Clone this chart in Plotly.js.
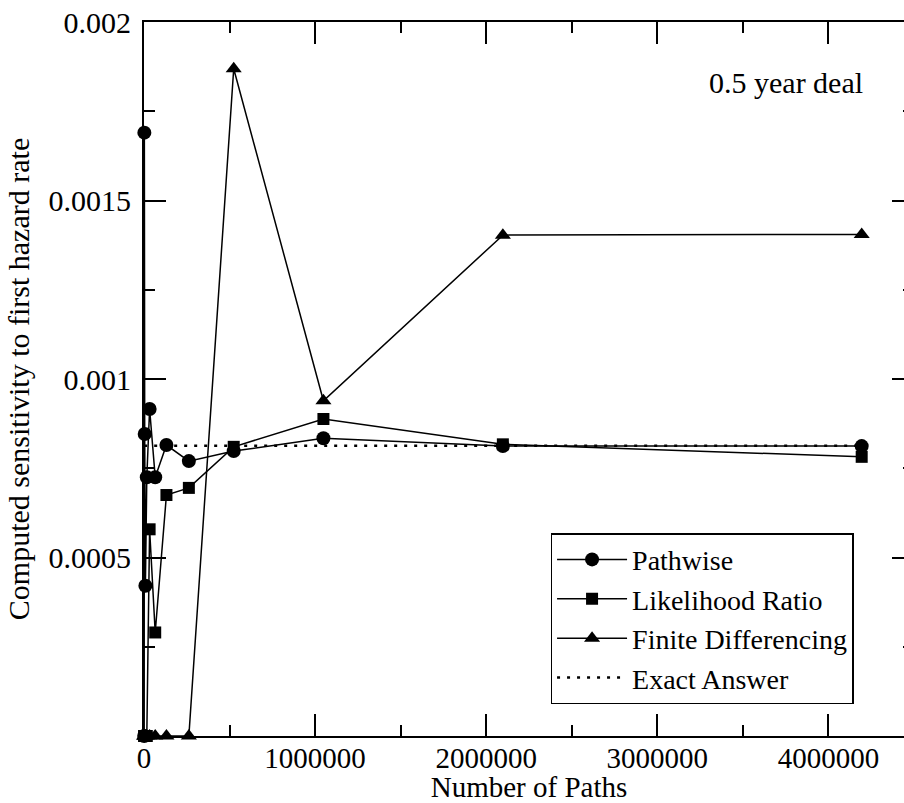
<!DOCTYPE html>
<html>
<head>
<meta charset="utf-8">
<script src="https://cdn.plot.ly/plotly-3.0.1.min.js"></script>
<style>
  html, body { margin: 0; padding: 0; overflow: hidden; background: #fff; }
  #chart { width: 920px; height: 803px; }
</style>
</head>
<body>
<div id="chart"></div>
<script>
// ---- data ----
const numPaths = [1024, 2048, 4096, 8192, 16384, 32768, 65536, 131072, 262144, 524288, 1048576, 2097152, 4194304];
const pathwise = [0, 0.00169, 0.000846, 0.000421, 0.000725, 0.000916, 0.000725, 0.000815, 0.000770, 0.000798, 0.000834, 0.000812, 0.000812];
const likelihoodRatio = [0, 0, 0, 0, 0, 0.000579, 0.000290, 0.000675, 0.000695, 0.000810, 0.000888, 0.000817, 0.000782];
const finiteDiff = [0, 0, 0, 0, 0, 0, 0, 0, 0, 0.001869, 0.000939, 0.001403, 0.001405];
const exactPaths = [1024, 4194304];
const exactAnswer = [0.000813, 0.000813];

const seriesNames = ["Pathwise", "Likelihood Ratio", "Finite Differencing", "Exact Answer"];
const xTickVals = [0, 1000000, 2000000, 3000000, 4000000];
const xTickText = ["0", "1000000", "2000000", "3000000", "4000000"];
const yTickVals = [0.0005, 0.001, 0.0015, 0.002];
const yTickText = ["0.0005", "0.001", "0.0015", "0.002"];

const FONT = "'Liberation Serif', 'DejaVu Serif', serif";
const lineStyle = { color: "#000", width: 1.5 };

const traces = [
  { x: numPaths, y: pathwise, name: seriesNames[0], mode: "lines+markers", cliponaxis: false,
    line: lineStyle, marker: { symbol: "circle", size: 14, color: "#000" } },
  { x: numPaths, y: likelihoodRatio, name: seriesNames[1], mode: "lines+markers", cliponaxis: false,
    line: lineStyle, marker: { symbol: "square", size: 12, color: "#000" } },
  { x: numPaths, y: finiteDiff, name: seriesNames[2], mode: "lines+markers", cliponaxis: false,
    line: lineStyle, marker: { symbol: "triangle-up", size: 14, color: "#000" } },
  { x: exactPaths, y: exactAnswer, name: seriesNames[3], mode: "lines", cliponaxis: false,
    line: { color: "#000", width: 2.5, dash: "3px,7px" } }
];

const axisCommon = {
  showline: true, linecolor: "#000", linewidth: 2,
  mirror: "allticks", ticks: "inside", ticklen: 22, tickwidth: 2, tickcolor: "#000",
  showgrid: false, zeroline: false,
  tickfont: { family: FONT, size: 30, color: "#000" },
  automargin: false
};

const layout = {
  width: 920, height: 803,
  margin: { l: 144, r: 6, t: 22, b: 67 },
  paper_bgcolor: "#fff", plot_bgcolor: "#fff",
  font: { family: FONT, size: 30, color: "#000" },
  showlegend: true,
  xaxis: Object.assign({}, axisCommon, {
    range: [0, 4500000],
    tickmode: "array", tickvals: xTickVals, ticktext: xTickText,
    tickfont: { family: FONT, size: 29, color: "#000" },
    ticklabelstandoff: -5,
    minor: { tickmode: "linear", tick0: 0, dtick: 500000, ticklen: 11, tickwidth: 2, tickcolor: "#000", ticks: "inside" },
    title: { text: "Number of Paths", font: { family: FONT, size: 29, color: "#000" } }
  }),
  yaxis: Object.assign({}, axisCommon, {
    range: [0, 0.002],
    tickmode: "array", tickvals: yTickVals, ticktext: yTickText,
    ticklabelstandoff: 5,
    minor: { tickmode: "linear", tick0: 0, dtick: 0.00025, ticklen: 11, tickwidth: 2, tickcolor: "#000", ticks: "inside" },
    title: { text: "Computed sensitivity to first hazard rate", font: { family: FONT, size: 30, color: "#000" }, standoff: 10 }
  }),
  legend: {
    x: 0.528, y: 0.284, xanchor: "left", yanchor: "top",
    bgcolor: "#fff", bordercolor: "#000", borderwidth: 1.5,
    font: { family: FONT, size: 28, color: "#000" },
    itemwidth: 70
  },
  annotations: [{
    text: "0.5 year deal", xref: "paper", yref: "paper", x: 0.937, y: 0.9146,
    xanchor: "right", yanchor: "middle", showarrow: false,
    font: { family: FONT, size: 30, color: "#000" }
  }]
};

Plotly.newPlot("chart", traces, layout, { displayModeBar: false, staticPlot: true });
</script>
</body>
</html>
